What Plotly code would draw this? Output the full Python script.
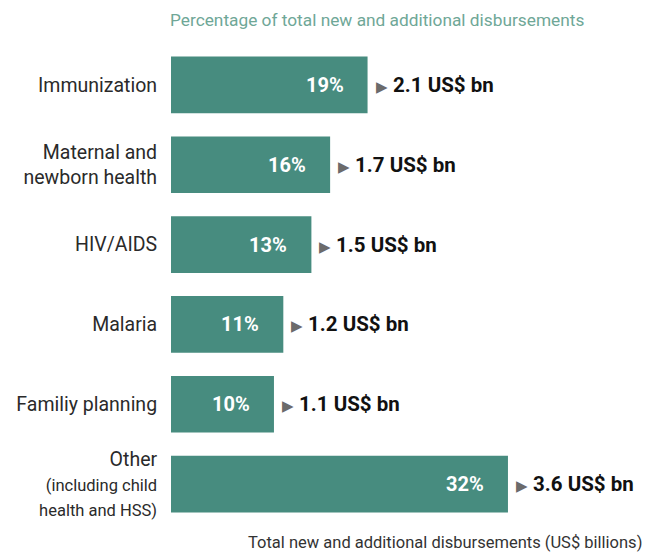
import plotly.graph_objects as go

categories = ["Immunization", "Maternal and<br>newborn health", "HIV/AIDS", "Malaria",
              "Familiy planning",
              "Other<br><span style='font-size:16.5px'>(including child<br>health and HSS)</span>"]
values = [2.1, 1.7, 1.5, 1.2, 1.1, 3.6]
percents = ["19%", "16%", "13%", "11%", "10%", "32%"]
value_labels = ["2.1 US$ bn", "1.7 US$ bn", "1.5 US$ bn", "1.2 US$ bn", "1.1 US$ bn", "3.6 US$ bn"]

TEAL = "#478C7F"
FONT = "Roboto"

fig = go.Figure()
fig.add_trace(go.Bar(
    x=values, y=categories, orientation="h",
    marker=dict(color=TEAL, line=dict(width=0)),
    width=0.71, hoverinfo="skip",
))

annotations = []
for c, v, p, vl in zip(categories, values, percents, value_labels):
    annotations.append(dict(
        x=v, y=c, xref="x", yref="y", text="<b>" + p + "</b>", showarrow=False,
        xanchor="right", xshift=-22, font=dict(family=FONT, size=20, color="white")))
    annotations.append(dict(
        x=v, y=c, xref="x", yref="y",
        text="<span style='color:#6b6b6b;font-size:15px'>▶</span> <b>" + vl + "</b>",
        showarrow=False, xanchor="left", xshift=6,
        font=dict(family=FONT, size=20.5, color="#111111")))

annotations.append(dict(
    x=0, y=1, xref="paper", yref="paper", yshift=37, xshift=-3,
    text="Percentage of total new and additional disbursements", showarrow=False,
    xanchor="left", yanchor="top", font=dict(family=FONT, size=17.3, color="#6FA797")))
annotations.append(dict(
    x=1, y=0, xref="paper", yref="paper", yshift=-8, xshift=4, borderpad=0,
    text="Total new and additional disbursements (US$ billions)", showarrow=False,
    xanchor="right", yanchor="top", font=dict(family=FONT, size=16.5, color="#333333")))

fig.update_layout(
    width=646, height=546,
    margin=dict(l=163, r=15, t=36.5, b=29.5, autoexpand=False),
    paper_bgcolor="white", plot_bgcolor="white",
    showlegend=False,
    xaxis=dict(range=[0, 5], visible=False, fixedrange=True, automargin=False),
    yaxis=dict(autorange="reversed", showgrid=False, zeroline=False, showline=False,
               automargin=False,
               ticks="outside", ticklen=9, tickcolor="rgba(0,0,0,0)",
               tickfont=dict(family=FONT, size=19.5, color="#2a2a2a")),
    annotations=annotations,
    font=dict(family=FONT),
)

fig.write_html("out.html")
